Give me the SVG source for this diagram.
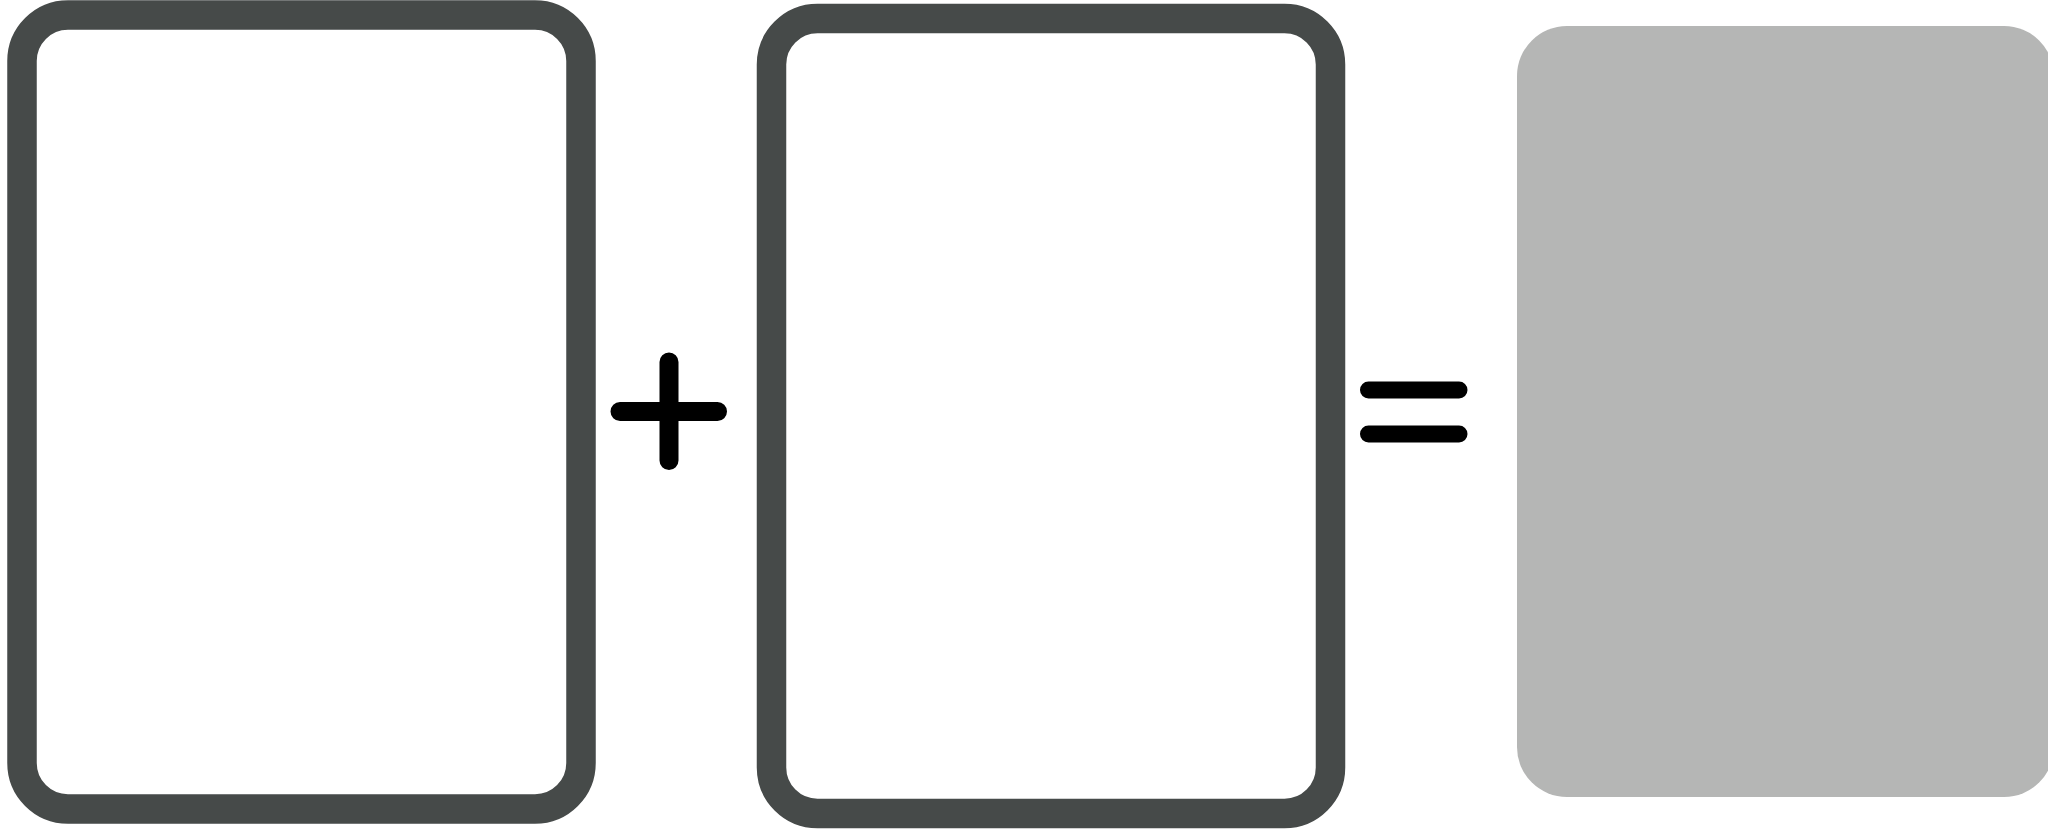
<svg xmlns="http://www.w3.org/2000/svg" width="2048" height="833" viewBox="0 0 2048 833">
<style>
.card{fill:#ffffff;stroke:#464a49;stroke-width:29.5}
.op{stroke:#000000;fill:none;stroke-linecap:round}
</style>
<rect width="2048" height="833" fill="#ffffff"/>
<g id="box1"><rect class="card" x="22" y="15" width="559" height="794" rx="46" ry="46"/></g>
<g id="plus"><path class="op" stroke-width="19" d="M669 362V460.5M620 411.5H717.5"/></g>
<g id="box2"><rect class="card" x="771.5" y="18.5" width="559" height="795" rx="46" ry="46"/></g>
<g id="equals"><path class="op" stroke-width="17" d="M1368.5 390H1459M1368.5 434H1459"/></g>
<g id="result"><rect x="1517" y="26" width="537" height="771" rx="50" ry="50" fill="#b5b6b5"/></g>
<g id="connectors"/>
</svg>
